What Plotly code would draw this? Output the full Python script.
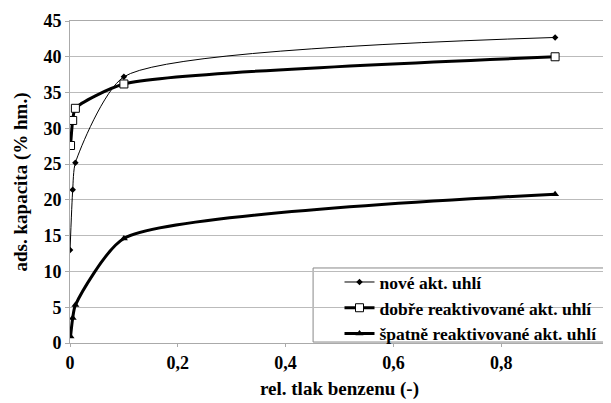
import plotly.graph_objects as go

x_nove = [0.0001, 0.005, 0.01, 0.1, 0.9]
y_nove = [13.0, 21.4, 25.2, 37.2, 42.7]

x_dobre = [0.001, 0.005, 0.01, 0.1, 0.9]
y_dobre = [27.6, 31.1, 32.8, 36.2, 40.0]

x_spatne = [0.001, 0.005, 0.01, 0.1, 0.9]
y_spatne = [0.9, 3.5, 5.3, 14.6, 20.8]

names = ["nové akt. uhlí", "dobře reaktivované akt. uhlí", "špatně reaktivované akt. uhlí"]

x_range = [0, 1]
x_step = 0.2
y_range = [0, 45]
y_step = 5

font_family = "Liberation Serif"
smooth = 0.6

fig = go.Figure()
fig.add_trace(go.Scatter(
    x=x_nove, y=y_nove, name=names[0], mode="lines+markers",
    line=dict(color="black", width=1, shape="spline", smoothing=smooth),
    marker=dict(symbol="diamond", size=5, color="black"),
))
fig.add_trace(go.Scatter(
    x=x_dobre, y=y_dobre, name=names[1], mode="lines+markers",
    line=dict(color="black", width=3, shape="spline", smoothing=smooth),
    marker=dict(symbol="square", size=8, color="white", line=dict(color="black", width=1)),
))
fig.add_trace(go.Scatter(
    x=x_spatne, y=y_spatne, name=names[2], mode="lines+markers",
    line=dict(color="black", width=3, shape="spline", smoothing=smooth),
    marker=dict(symbol="triangle-up", size=7, color="black"),
))

# legend frame
fig.add_shape(type="rect", xref="paper", yref="paper",
              x0=0.451, x1=0.996, y0=0.003, y1=0.233,
              line=dict(color="#888888", width=1), fillcolor="white", layer="below")

# the page has an 8px body margin, so the figure is sized/margined to compensate
fig.update_layout(
    width=603, height=395,
    margin=dict(l=62, r=2, t=13, b=60, autoexpand=False),
    paper_bgcolor="white", plot_bgcolor="white",
    font=dict(family=font_family, size=13, color="black"),
    separators=", ",
    showlegend=True,
    legend=dict(
        x=0.50, y=0.245, xanchor="left", yanchor="top",
        bgcolor="rgba(0,0,0,0)", borderwidth=0,
        font=dict(family=font_family, size=17.5, color="black", weight="bold"),
        itemwidth=30,
    ),
    xaxis=dict(
        range=x_range, tickmode="linear", tick0=0, dtick=x_step,
        showgrid=False, zeroline=False,
        showline=True, linecolor="#aaaaaa", linewidth=1, mirror=True,
        ticks="outside", ticklen=3, tickcolor="#aaaaaa",
        ticklabeloverflow="allow", automargin=False,
        tickfont=dict(family=font_family, size=18, color="black", weight="bold"),
        title=dict(text="rel. tlak benzenu (-)", standoff=10,
                   font=dict(family=font_family, size=19, weight="bold")),
    ),
    yaxis=dict(
        range=y_range, tickmode="linear", tick0=0, dtick=y_step,
        showgrid=True, gridcolor="#bbbbbb", gridwidth=1, zeroline=False,
        showline=True, linecolor="#aaaaaa", linewidth=1, mirror=True,
        ticks="outside", ticklen=4, tickcolor="#aaaaaa", automargin=False,
        tickfont=dict(family=font_family, size=18, color="black", weight="bold"),
        title=dict(text="ads. kapacita (% hm.)", standoff=10,
                   font=dict(family=font_family, size=19, weight="bold")),
    ),
)

fig.write_html("out.html")
